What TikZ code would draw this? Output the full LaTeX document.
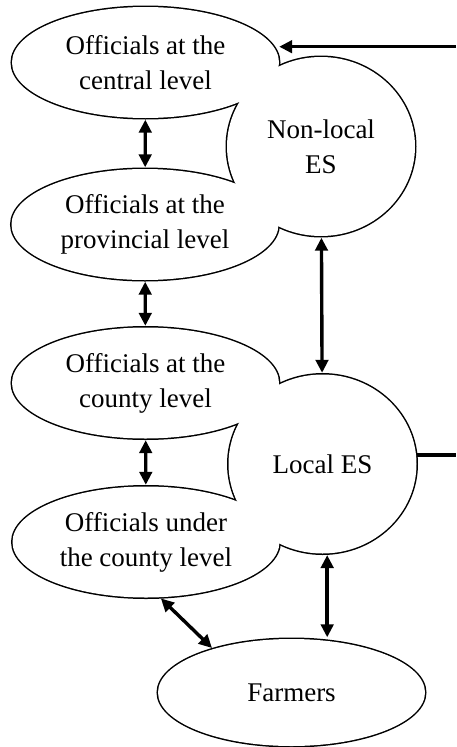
\documentclass[tikz,border=0pt]{standalone}
\usepackage{fontspec}
\setmainfont{Liberation Serif}
\usetikzlibrary{shapes.geometric, arrows.meta, backgrounds}

\tikzset{%
  unit/.style={ellipse, fill=white, inner sep=0pt, align=center,
    font=\fontsize{27}{35}\selectfont},
  official/.style={unit, minimum width=267pt, minimum height=111pt},
  service/.style={unit, minimum width=188pt, minimum height=179pt},
  farm/.style={unit, minimum width=267pt, minimum height=107pt},
  rim/.style={draw, line width=3pt},
  link/.style={line width=3.4pt, shorten <=1.5pt, shorten >=1.5pt,
    {Triangle[length=13pt,width=12.5pt]}-{Triangle[length=13pt,width=12.5pt]}},
  feed/.style={line width=3.2pt, -{Triangle[length=13pt,width=12.5pt]}},
}

\begin{document}
\begin{tikzpicture}[x=1pt, y=-1pt]
  \useasboundingbox (0,0) rectangle (456,747);%

  % government side
  \node[official] (central)    at (145.5,62.5) {Officials at the\\central level};%
  \node[official] (provincial) at (145,224.5)  {Officials at the\\provincial level};%
  \node[official] (county)     at (145.5,383)  {Officials at the\\county level};%
  \node[official] (under)      at (146,542)    {Officials under\\the county level};%

  % extension services
  \node[service] (nonlocal) at (321,146.5) {Non-local\\ES};%
  \node[service] (local)    at (322.5,464) {Local ES};%
  \node[farm]    (farmers)  at (291.5,692.5) {Farmers};%

  % outlines behind the fills, so overlaps show only the outer edge
  \begin{pgfonlayer}{background}
    \foreach \n in {central, provincial, county, under}
      \node[official, rim] at (\n) {};%
    \foreach \n in {nonlocal, local}
      \node[service, rim] at (\n) {};%
    \node[farm, rim] at (farmers) {};%
  \end{pgfonlayer}

  \coordinate (inflow) at (456,46.7);%
  \coordinate (outflow) at (456,455);%

  \draw[link] (central) -- (provincial);%
  \draw[link] (provincial) -- (county);%
  \draw[link] (county) -- (under);%
  \draw[link] (nonlocal) -- (local);%
  \draw[link] (local.-87) -- (local.-87 |- farmers.north);%
  \draw[link] (under.-76) -- (farmers.151);%

  \draw[feed] (inflow) -- (central.east |- inflow);%
  \draw[line width=3.2pt] (local.east |- outflow) -- (outflow);%
\end{tikzpicture}
\end{document}
